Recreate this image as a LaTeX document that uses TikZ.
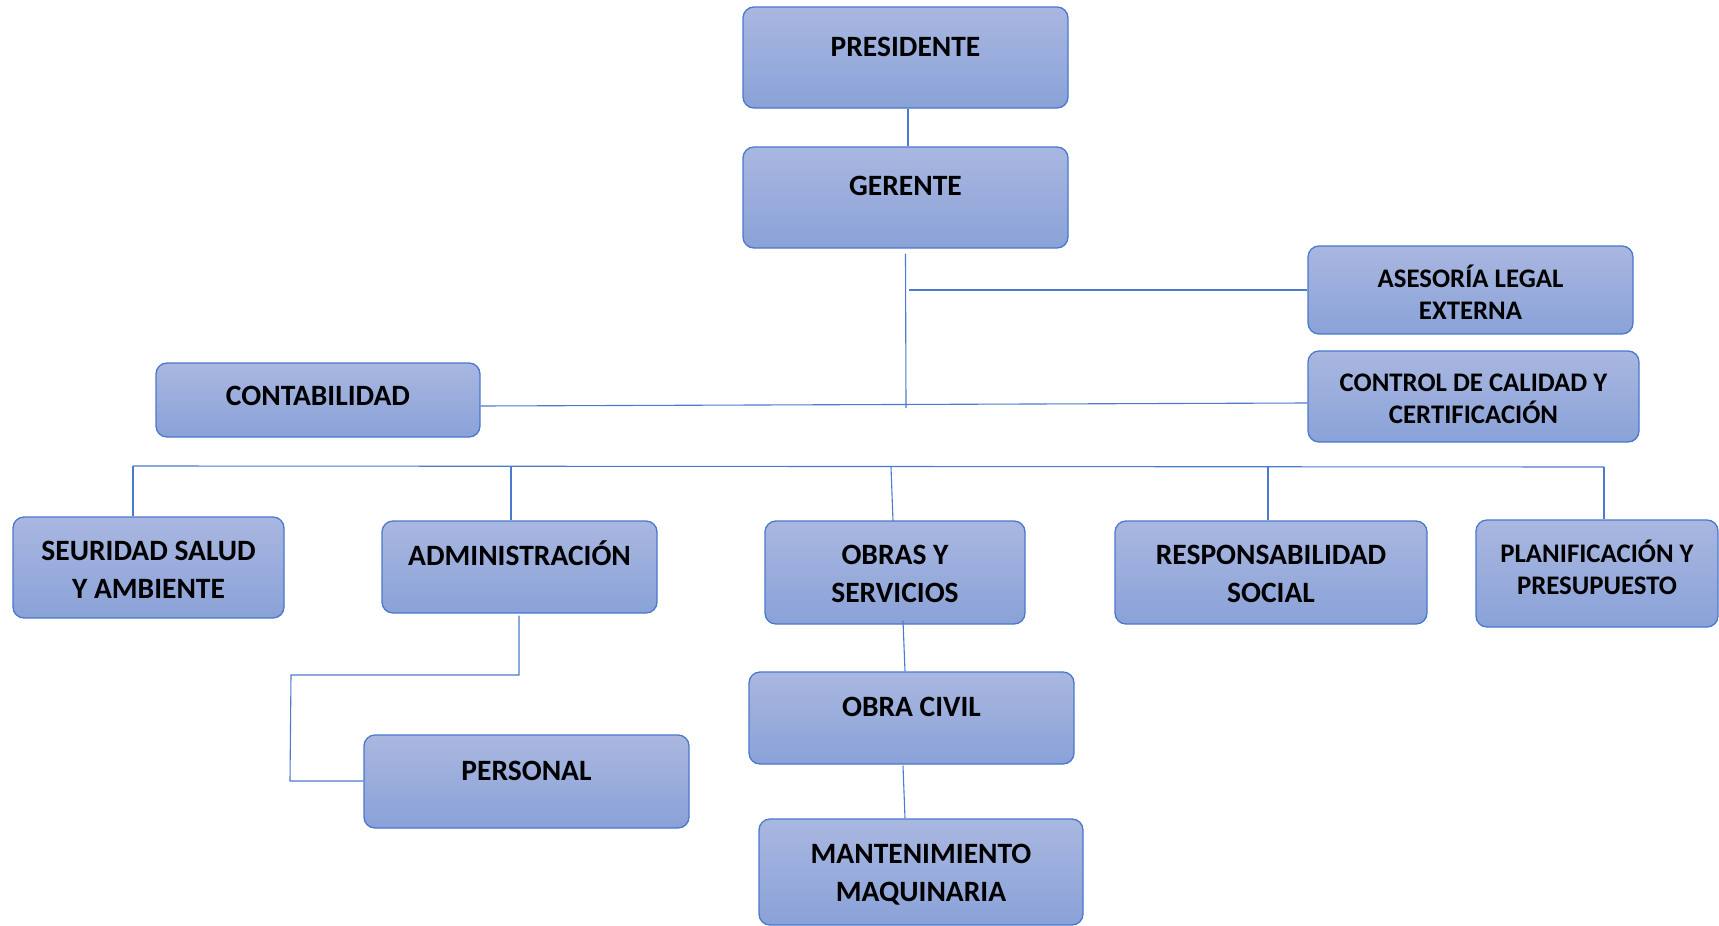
\documentclass[tikz,border=0pt]{standalone}
\usepackage{fontspec}
\setmainfont{Carlito}
\usetikzlibrary{calc}

\definecolor{boxedge}{HTML}{4A78CC}
\definecolor{boxtop}{HTML}{A9B7E0}
\definecolor{boxbot}{HTML}{8AA2D8}
\definecolor{wire}{HTML}{4A7BD0}

\tikzset{
  orgbox/.style={draw=boxedge, line width=1.3pt, rounded corners=11pt,
    top color=boxtop, bottom color=boxbot, inner sep=0pt},
  biglbl/.style={font=\bfseries\fontsize{29.5}{38}\selectfont, align=center,
    inner sep=0pt, anchor=base, text=black},
  smalllbl/.style={font=\bfseries\fontsize{26.8}{32}\selectfont, align=center,
    inner sep=0pt, anchor=base, text=black},
  wireline/.style={draw=wire, line width=1.1pt},
}

% #1 name, #2 left, #3 top, #4 right, #5 bottom, #6 label style, #7 baseline of last line, #8 text
\newcommand\orgunit[8]{%
  \node[orgbox, minimum width={(#4-#2)*1pt}, minimum height={(#5-#3)*1pt}]
    (#1) at ({(#2+#4)/2},{(#3+#5)/2}) {};
  \node[#6] (#1t) at ({(#2+#4)/2},#7) {#8};
}

\begin{document}
\begin{tikzpicture}[x=1pt,y=-1pt]
\useasboundingbox (0,0) rectangle (1719,926);

% boxes
\orgunit{pres}{743}{7}{1068}{108}{biglbl}{56}{PRESIDENTE}
\orgunit{ger}{743}{147}{1068}{248}{biglbl}{195}{GERENTE}
\orgunit{ases}{1308}{246}{1633}{334}{smalllbl}{319}{ASESORÍA LEGAL\\EXTERNA}
\orgunit{ctrl}{1308}{351}{1639}{442}{smalllbl}{423}{CONTROL DE CALIDAD Y\\CERTIFICACIÓN}
\orgunit{cont}{156}{363}{480}{437}{biglbl}{405}{CONTABILIDAD}
\orgunit{seur}{13}{517}{284}{618}{biglbl}{598}{SEURIDAD SALUD\\Y AMBIENTE}
\orgunit{admin}{382}{521}{657}{613}{biglbl}{565}{ADMINISTRACIÓN}
\orgunit{obras}{765}{521}{1025}{624}{biglbl}{602}{OBRAS Y\\SERVICIOS}
\orgunit{resp}{1115}{521}{1427}{624}{biglbl}{602}{RESPONSABILIDAD\\SOCIAL}
\orgunit{plan}{1476}{520}{1718}{627}{smalllbl}{594}{PLANIFICACIÓN Y\\PRESUPUESTO}
\orgunit{pers}{364}{735}{689}{828}{biglbl}{780}{PERSONAL}
\orgunit{civil}{749}{672}{1074}{764}{biglbl}{716}{OBRA CIVIL}
\orgunit{mant}{759}{819}{1083}{925}{biglbl}{901}{MANTENIMIENTO\\MAQUINARIA}

% junction points
\coordinate (trunkend) at (906,408);
\coordinate (asesj) at (909,290);
\coordinate (busL) at (133,466);
\coordinate (busR) at (1604,467);
\coordinate (persA) at (519,675);
\coordinate (persB) at (291,675);
\coordinate (persC) at (290,781);

% connectors
\draw[wireline] (pres.south -| 908,0) -- (ger.north -| 908,0);
\draw[wireline] ($(ger.south)+(0,5)$) -- (trunkend);
\draw[wireline] (asesj) -- (ases.west |- asesj);
\draw[wireline] (cont.east |- 0,406) -- (ctrl.west |- 0,403);
\draw[wireline] (busL) -- (busR);
\draw[wireline] (busL) -- (seur.north -| busL);
\draw[wireline] (511,466) -- (admin.north -| 511,0);
\draw[wireline] (891,467) -- (893,521);
\draw[wireline] (1268,467) -- (resp.north -| 1268,0);
\draw[wireline] (busR) -- (plan.north -| busR);
\draw[wireline] ($(admin.south -| persA)+(0,2)$) -- (persA) -- (persB) -- (persC) -- (pers.west |- persC);
\draw[wireline] ($(obras.south -| 903,0)+(0,-4)$) -- (civil.north -| 905,0);
\draw[wireline] ($(civil.south -| 903,0)+(0,1)$) -- (mant.north -| 905,0);
\end{tikzpicture}
\end{document}
